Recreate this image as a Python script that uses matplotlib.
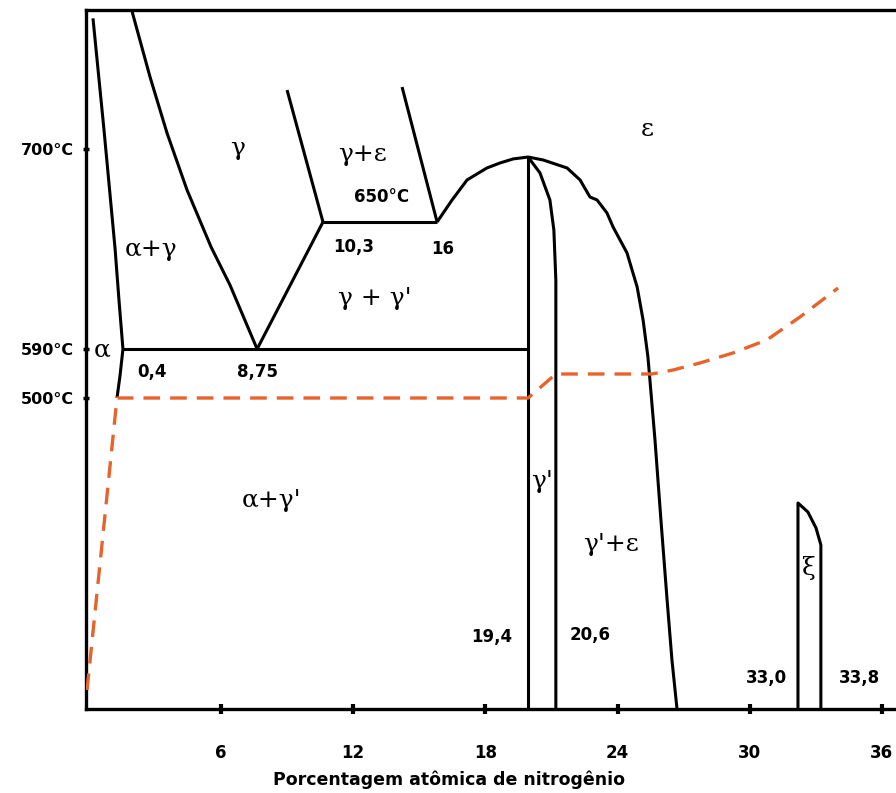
"""Fe-N phase diagram (schematic), nitrogen-rich side."""

import matplotlib

matplotlib.use("Agg")
import matplotlib.pyplot as plt
import numpy as np

# schematic temperature axis: the drawing is not to scale, so the
# labelled temperatures are spread out piecewise
T_KNOTS = [300, 500, 590, 650, 700, 800]
POS_KNOTS = [0, 311, 360, 487, 560, 699]

# phase boundaries (at.% N, °C)
alpha_x = [0.19, 0.69, 1.19, 1.37, 1.55, 1.42, 1.28]
alpha_t = [794, 713.7, 637.7, 613.1, 590, 542, 500]

gamma_x = [1.97, 2.78, 3.55, 4.46, 5.55, 6.41, 7.64]
gamma_t = [798.6, 751.8, 711.5, 671.9, 638.2, 620.2, 590]

v_arm_x = [7.64, 10.63]
v_arm_t = [590, 650]

g_ge_x = [9.0, 10.63]
g_ge_t = [742.4, 650]

ge_e_x = [14.22, 15.81]
ge_e_t = [744.6, 650]

iso650_x = [10.63, 15.81]
iso650_t = [650, 650]

dome_x = [15.81, 16.49, 17.17, 18.07, 18.66, 19.26, 19.94, 20.62, 21.71, 22.30,
          22.75, 23.07, 23.52, 23.8, 24.43, 24.89, 25.16, 25.38, 25.47, 25.7,
          25.97, 26.25, 26.47, 26.7]
dome_t = [650, 665.1, 678.8, 687.0, 690.4, 693.2, 694.5, 692.5, 687.0, 678.8,
          667.1, 665.1, 656.2, 647.6, 635.4, 619.3, 603.7, 575.3, 533.1, 473.0,
          421.5, 370.1, 331.5, 300]

gp_left_x = [19.94, 19.94]
gp_left_t = [694.5, 300]

gp_right_x = [19.94, 20.48, 20.93, 21.11, 21.2, 21.2]
gp_right_t = [694.5, 683.6, 665.1, 646.2, 622.6, 300]

iso590_x = [1.55, 19.94]
iso590_t = [590, 590]

xi_x = [32.19, 32.19, 32.64, 33.01, 33.23, 33.23]
xi_t = [300, 432.5, 426.7, 416.4, 405.5, 300]

# nitriding path (dashed)
path_x = [-0.08, 1.28, 19.94, 21.2, 25.56, 26.52, 27.74, 29.24, 30.78, 32.28, 34.01]
path_t = [312.2, 500, 500, 544.1, 544.1, 551.4, 564.3, 582.7, 594.3, 605.1, 618.8]

# region labels
phase_labels = ["γ", "γ+ε", "ε", "α+γ", "γ + γ'", "α", "α+γ'", "γ'", "γ'+ε", "ξ"]
phase_x = [6.77, 12.41, 25.34, 2.83, 12.99, 0.6, 8.28, 20.57, 23.72, 32.69]
phase_t = [700.7, 695.9, 713.7, 636.8, 614, 589, 434.4, 446, 405.5, 390.7]

# composition / temperature annotations
num_labels = ["650°C", "10,3", "16", "0,4", "8,75", "19,4", "20,6", "33,0", "33,8"]
num_x = [13.31, 12.04, 16.08, 2.87, 7.64, 18.27, 22.75, 30.74, 34.96]
num_t = [667.1, 638.2, 637.2, 547.8, 547.8, 346.3, 347.6, 319.9, 319.9]

x_ticks = [6, 12, 18, 24, 30, 36]
y_ticks = [700, 590, 500]
y_tick_labels = ["700°C", "590°C", "500°C"]


def fwd(t):
    return np.interp(t, T_KNOTS, POS_KNOTS)


def inv(p):
    return np.interp(p, POS_KNOTS, T_KNOTS)


fig = plt.figure(figsize=(8.96, 7.93), dpi=100)
ax = fig.add_axes([86 / 896, 84 / 793, 810 / 896, 699 / 793])
ax.set_yscale("function", functions=(fwd, inv))
ax.set_xlim(-0.127, 36.64)
ax.set_ylim(300, 800)

line_kw = dict(color="black", lw=2.2, solid_capstyle="butt", solid_joinstyle="round")
for xs, ts in [
    (alpha_x, alpha_t),
    (gamma_x, gamma_t),
    (v_arm_x, v_arm_t),
    (g_ge_x, g_ge_t),
    (ge_e_x, ge_e_t),
    (iso650_x, iso650_t),
    (dome_x, dome_t),
    (gp_left_x, gp_left_t),
    (gp_right_x, gp_right_t),
    (iso590_x, iso590_t),
    (xi_x, xi_t),
]:
    ax.plot(xs, ts, **line_kw)

ax.plot(path_x, path_t, color="#e8632b", lw=2.4, dashes=(5, 3), zorder=3)

for text, x, t in zip(phase_labels, phase_x, phase_t):
    ax.text(x, t, text, ha="center", va="center", fontsize=18, family="DejaVu Serif")

for text, x, t in zip(num_labels, num_x, num_t):
    ax.text(x, t, text, ha="center", va="center", fontsize=12, fontweight="bold")

ax.spines["right"].set_visible(False)
for side in ["left", "top", "bottom"]:
    ax.spines[side].set_linewidth(2.4)

ax.set_xticks(x_ticks)
ax.set_xticklabels([str(v) for v in x_ticks], fontsize=12, fontweight="bold")
ax.set_yticks(y_ticks)
ax.set_yticklabels(y_tick_labels, fontsize=11.5, fontweight="bold")
ax.yaxis.set_minor_locator(matplotlib.ticker.NullLocator())
ax.tick_params(axis="x", direction="inout", length=7, width=3, pad=22)
ax.tick_params(axis="y", direction="inout", length=5, width=2.5, pad=6)

ax.set_xlabel("Porcentagem atômica de nitrogênio", fontsize=12.5, fontweight="bold")
ax.xaxis.label.set_va("center")
ax.xaxis.set_label_coords(0.448, -0.1016)

fig.savefig("out.png", dpi=100)
